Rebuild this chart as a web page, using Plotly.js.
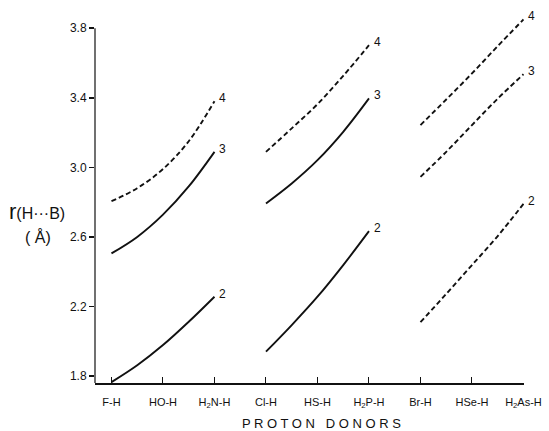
<!DOCTYPE html>
<html>
<head>
<meta charset="utf-8">
<script src="https://cdn.plot.ly/plotly-3.0.1.min.js"></script>
<style>html,body{margin:0;padding:0;background:#fff;}#chart{width:549px;height:431px;}</style>
</head>
<body>
<div id="chart"></div>
<script>
// Proton donors (x categories, by index)
const donors = ["F-H", "HO-H", "H<sub>2</sub>N-H", "Cl-H", "HS-H", "H<sub>2</sub>P-H", "Br-H", "HSe-H", "H<sub>2</sub>As-H"];
const yTicks = [1.8, 2.2, 2.6, 3.0, 3.4, 3.8];

// Positions along each donor group (index units), sampled at half steps
const group1X = [0, 0.5, 1, 1.5, 2];
const group2X = [3, 3.5, 4, 4.5, 5];
const group3X = [6, 6.5, 7, 7.5, 8];

// r(H···B) in Å for acceptor rows 2, 3, 4
const g1_row2 = [1.765, 1.862, 1.978, 2.112, 2.256];
const g1_row3 = [2.505, 2.600, 2.728, 2.890, 3.089];
const g1_row4 = [2.805, 2.880, 2.990, 3.150, 3.380];

const g2_row2 = [1.940, 2.093, 2.256, 2.438, 2.633];
const g2_row3 = [2.792, 2.907, 3.041, 3.204, 3.396];
const g2_row4 = [3.089, 3.224, 3.363, 3.526, 3.702];

const g3_row2 = [2.110, 2.272, 2.438, 2.605, 2.790];
const g3_row3 = [2.945, 3.089, 3.243, 3.395, 3.535];
const g3_row4 = [3.243, 3.390, 3.540, 3.697, 3.850];

const curves = [
  {x: group1X, y: g1_row2, label: "2", dash: "solid"},
  {x: group1X, y: g1_row3, label: "3", dash: "solid"},
  {x: group1X, y: g1_row4, label: "4", dash: "5px,3px"},
  {x: group2X, y: g2_row2, label: "2", dash: "solid"},
  {x: group2X, y: g2_row3, label: "3", dash: "solid"},
  {x: group2X, y: g2_row4, label: "4", dash: "5px,3px"},
  {x: group3X, y: g3_row2, label: "2", dash: "5px,3px"},
  {x: group3X, y: g3_row3, label: "3", dash: "5px,3px"},
  {x: group3X, y: g3_row4, label: "4", dash: "5px,3px"}
];

const FONT = "Liberation Sans, Arial, sans-serif";

const traces = curves.map(c => ({
  type: "scatter", mode: "lines", x: c.x, y: c.y,
  line: {color: "#111", width: 1.9, dash: c.dash, shape: "spline", smoothing: 1},
  hoverinfo: "skip", showlegend: false
}));

const annotations = curves.map(c => ({
  x: c.x[c.x.length - 1], y: c.y[c.y.length - 1], xref: "x", yref: "y",
  text: c.label, showarrow: false, xanchor: "left", yanchor: "middle",
  xshift: 3, yshift: 3, font: {family: FONT, size: 12, color: "#111"}
}));

annotations.push({
  x: -0.135, y: 0.466, xref: "paper", yref: "paper", xanchor: "center", yanchor: "middle",
  text: "<span style='font-size:22px'>r</span>(H···B)", showarrow: false,
  font: {family: FONT, size: 16, color: "#111"}
});
annotations.push({
  x: -0.133, y: 0.398, xref: "paper", yref: "paper", xanchor: "center", yanchor: "middle",
  text: "( Å)", showarrow: false, font: {family: FONT, size: 16, color: "#111"}
});
annotations.push({
  x: 0.528, y: -0.11, xref: "paper", yref: "paper", xanchor: "center", yanchor: "middle",
  text: "P R O T O N &nbsp; D O N O R S", showarrow: false,
  font: {family: FONT, size: 13, color: "#111"}
});

const layout = {
  width: 549, height: 431,
  margin: {l: 95, r: 25, t: 16, b: 48},
  paper_bgcolor: "#fff", plot_bgcolor: "#fff",
  showlegend: false,
  xaxis: {
    range: [-0.32, 8.01], tickmode: "array",
    tickvals: donors.map((d, i) => i), ticktext: donors,
    ticks: "inside", ticklen: 6, tickcolor: "#111", tickwidth: 1,
    ticklabelstandoff: 8,
    showline: true, linecolor: "#111", linewidth: 1.5,
    showgrid: false, zeroline: false,
    tickfont: {family: FONT, size: 11, color: "#111"}
  },
  yaxis: {
    range: [1.76, 3.87], tickmode: "array", tickvals: yTicks,
    ticktext: yTicks.map(v => v.toFixed(1)),
    ticks: "outside", ticklen: 5, tickcolor: "#111", tickwidth: 1.5,
    showline: false, showgrid: false, zeroline: false,
    tickfont: {family: FONT, size: 12, color: "#111"}
  },
  shapes: [{
    type: "line", xref: "paper", yref: "y", x0: 0, x1: 0,
    y0: 1.76, y1: yTicks[yTicks.length - 1],
    line: {color: "#111", width: 1.2}
  }],
  annotations: annotations
};

Plotly.newPlot("chart", traces, layout, {staticPlot: true, displayModeBar: false});
</script>
</body>
</html>
